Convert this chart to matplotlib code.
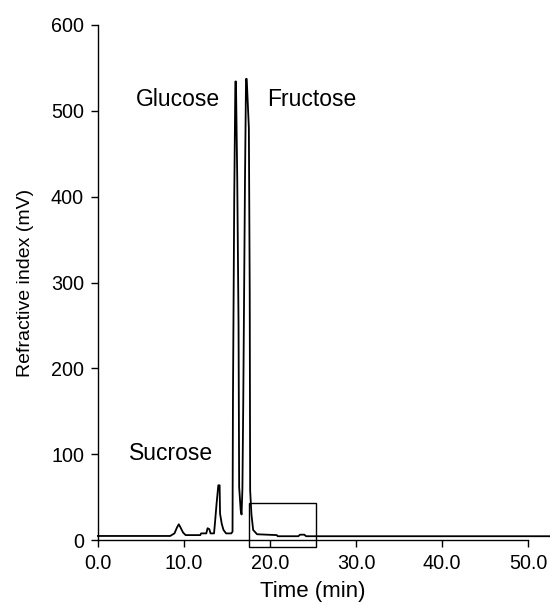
import matplotlib.pyplot as plt
from matplotlib.patches import Rectangle

plt.rcParams['font.family'] = ['Liberation Sans', 'DejaVu Sans']

# chromatogram trace (min, mV)
time_min = [0.0, 8.4, 8.9, 9.2, 9.4, 9.6, 9.9, 10.2, 11.9, 12.0, 12.6, 12.75,
            12.95, 13.1, 13.5, 13.6, 13.8, 14.0, 14.15, 14.2, 14.4, 14.6, 14.9,
            15.5, 15.65, 15.7, 15.85, 15.98, 16.05, 16.2, 16.35, 16.42, 16.6,
            16.7, 16.8, 16.9, 17.1, 17.22, 17.3, 17.55, 17.65, 17.7, 17.85,
            18.05, 18.5, 20.8, 20.9, 23.3, 23.5, 24.0, 24.2, 52.5]
signal_mv = [5, 5, 8, 15, 18.6, 15, 9, 6, 6, 8, 8, 14,
             13, 8, 8, 19, 43, 64, 64, 31, 19, 12, 8,
             8, 10, 163, 400, 534, 534, 420, 250, 62, 35,
             30, 60, 163, 420, 537, 537, 480, 288, 58, 30,
             12, 7, 6, 4.7, 4.7, 6.5, 6.5, 4.7, 4.7]

x_ticks = [0, 10, 20, 30, 40, 50]
y_ticks = [0, 100, 200, 300, 400, 500, 600]

peak_names = ['Sucrose', 'Glucose', 'Fructose']
peak_label_x = [8.5, 14.2, 19.65]
peak_label_y = [101, 513, 513]
peak_label_ha = ['center', 'right', 'left']

fig = plt.figure(figsize=(5.5, 6.05), dpi=100)
ax = fig.add_axes([0.178, 0.107, 0.782, 0.852])

ax.plot(time_min, signal_mv, color='black', linewidth=1.3, clip_on=False)

# zoom box drawn over the late part of the trace
ax.add_patch(Rectangle((17.6, -8), 7.7, 51, fill=False, edgecolor='black',
                       linewidth=1.0, clip_on=False))

for name, lx, ly, ha in zip(peak_names, peak_label_x, peak_label_y, peak_label_ha):
    ax.text(lx, ly, name, ha=ha, va='center', fontsize=16.5)

ax.set_xlim(0, 50)
ax.set_ylim(0, 600)
ax.set_xticks(x_ticks)
ax.set_xticklabels([f'{v:.1f}' for v in x_ticks])
ax.set_yticks(y_ticks)
ax.tick_params(direction='out', length=5, width=1, pad=5, labelsize=14.2,
               colors='black')
ax.spines['top'].set_visible(False)
ax.spines['right'].set_visible(False)
ax.spines['left'].set_linewidth(1.0)
ax.spines['bottom'].set_linewidth(1.0)

ax.set_xlabel('Time (min)', fontsize=16, labelpad=6)
ax.set_ylabel('Refractive index (mV)', fontsize=14, labelpad=12)

fig.savefig('out.png', dpi=100)
